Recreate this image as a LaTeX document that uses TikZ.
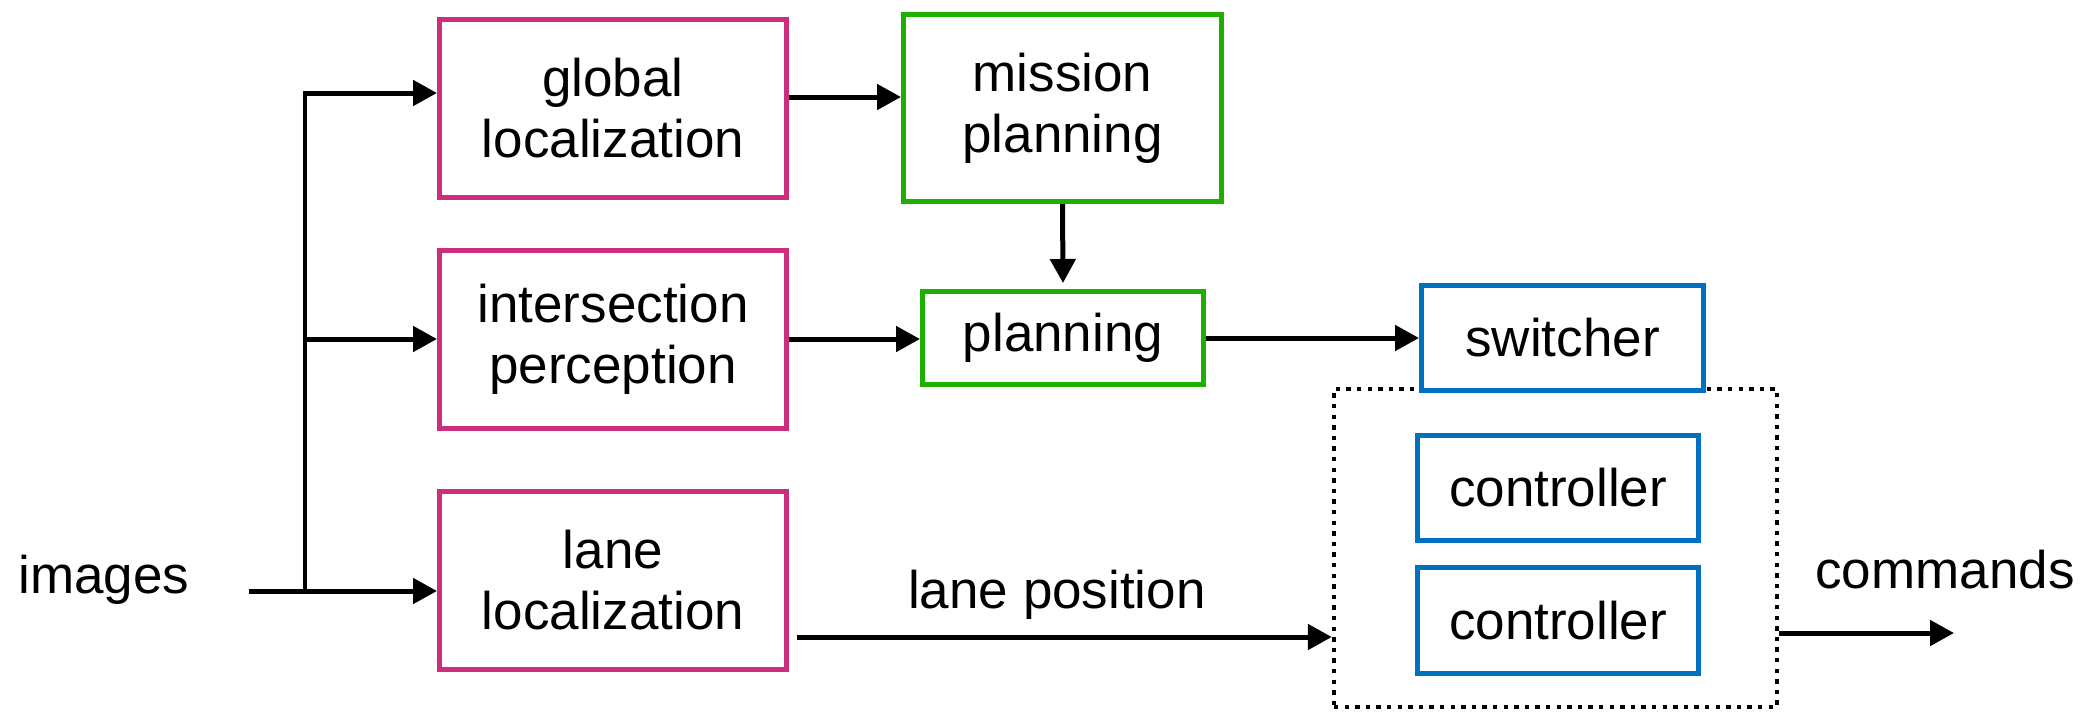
\documentclass[tikz,border=0pt]{standalone}
\usepackage{fontspec}
\setmainfont{Liberation Sans}
\usetikzlibrary{arrows.meta}
\definecolor{pinkc}{RGB}{204,45,125}
\definecolor{greenc}{RGB}{30,176,0}
\definecolor{bluec}{RGB}{0,112,192}
\begin{document}
\begin{tikzpicture}[x=0.5pt,y=-0.5pt,
  font=\fontsize{26.5pt}{30.5pt}\selectfont,
  box/.style={draw,line width=2.5pt,fill=white,align=center,inner sep=0pt},
  pinkbox/.style={box,draw=pinkc,minimum width=173.5pt,minimum height=89pt},
  greenbox/.style={box,draw=greenc},
  bluebox/.style={box,draw=bluec,minimum width=140.5pt},
  dashbox/.style={draw,line width=2.2pt,dash pattern=on 2.2pt off 3.1pt,minimum width=221.5pt,minimum height=159pt,inner sep=0pt},
  arr/.style={line width=2.5pt,-{Triangle[length=12pt,width=12.5pt]}},
  lbl/.style={anchor=base,inner sep=0pt}]
\useasboundingbox (0,0) rectangle (2092,713);
% pink boxes
\node[pinkbox] (gl) at (613,108.5) {global\\localization};
\node[pinkbox] (ip) at (613,339) {intersection\\perception};
\node[pinkbox] (ll) at (613,580) {lane\\localization};
% green boxes
\node[greenbox,minimum width=159pt,minimum height=93.5pt] (mp) at (1062.5,108) {mission\\planning};
\node[greenbox,minimum width=140.5pt,minimum height=46.5pt] (pl) at (1063,338) {planning};
% dashed container
\node[dashbox] (ctrl) at (1555.5,548) {};
% blue boxes
\node[bluebox,minimum width=141pt,minimum height=52.5pt] (sw) at (1562.5,338) {switcher};
\node[bluebox,minimum height=52.5pt] (c1) at (1558,488) {controller};
\node[bluebox,minimum height=53pt] (c2) at (1558,620.5) {controller};
% labels
\node[lbl] (img) at (104,593) {images};
\node[lbl] (lp) at (1057,608) {lane position};
\node[lbl] (cmd) at (1945,588) {commands};
% connectors
\coordinate (src) at (249,591);
\coordinate (j) at (305,591);
\coordinate (jt) at (305,93);
\draw[arr] (src) -- (ll.west |- src);
\draw[line width=2pt] (j) -- (jt);
\draw[arr] ([xshift=-1pt]jt) -- (gl.west |- jt);
\draw[arr] (j |- ip.west) -- (ip.west);
\draw[arr] (gl.east |- 0,97) -- (mp.west |- 0,97);
\draw[arr] (ip.east) -- (pl.west |- ip.east);
\draw[arr] (mp.south) -- ([yshift=3pt]pl.north);
\draw[arr] (pl.east) -- (sw.west |- pl.east);
\draw[arr] ([xshift=4pt]ll.east |- 0,637) -- (ctrl.west |- 0,637);
\coordinate (out) at (1954,633);
\draw[arr] (ctrl.east |- out) -- (out);
\end{tikzpicture}
\end{document}
